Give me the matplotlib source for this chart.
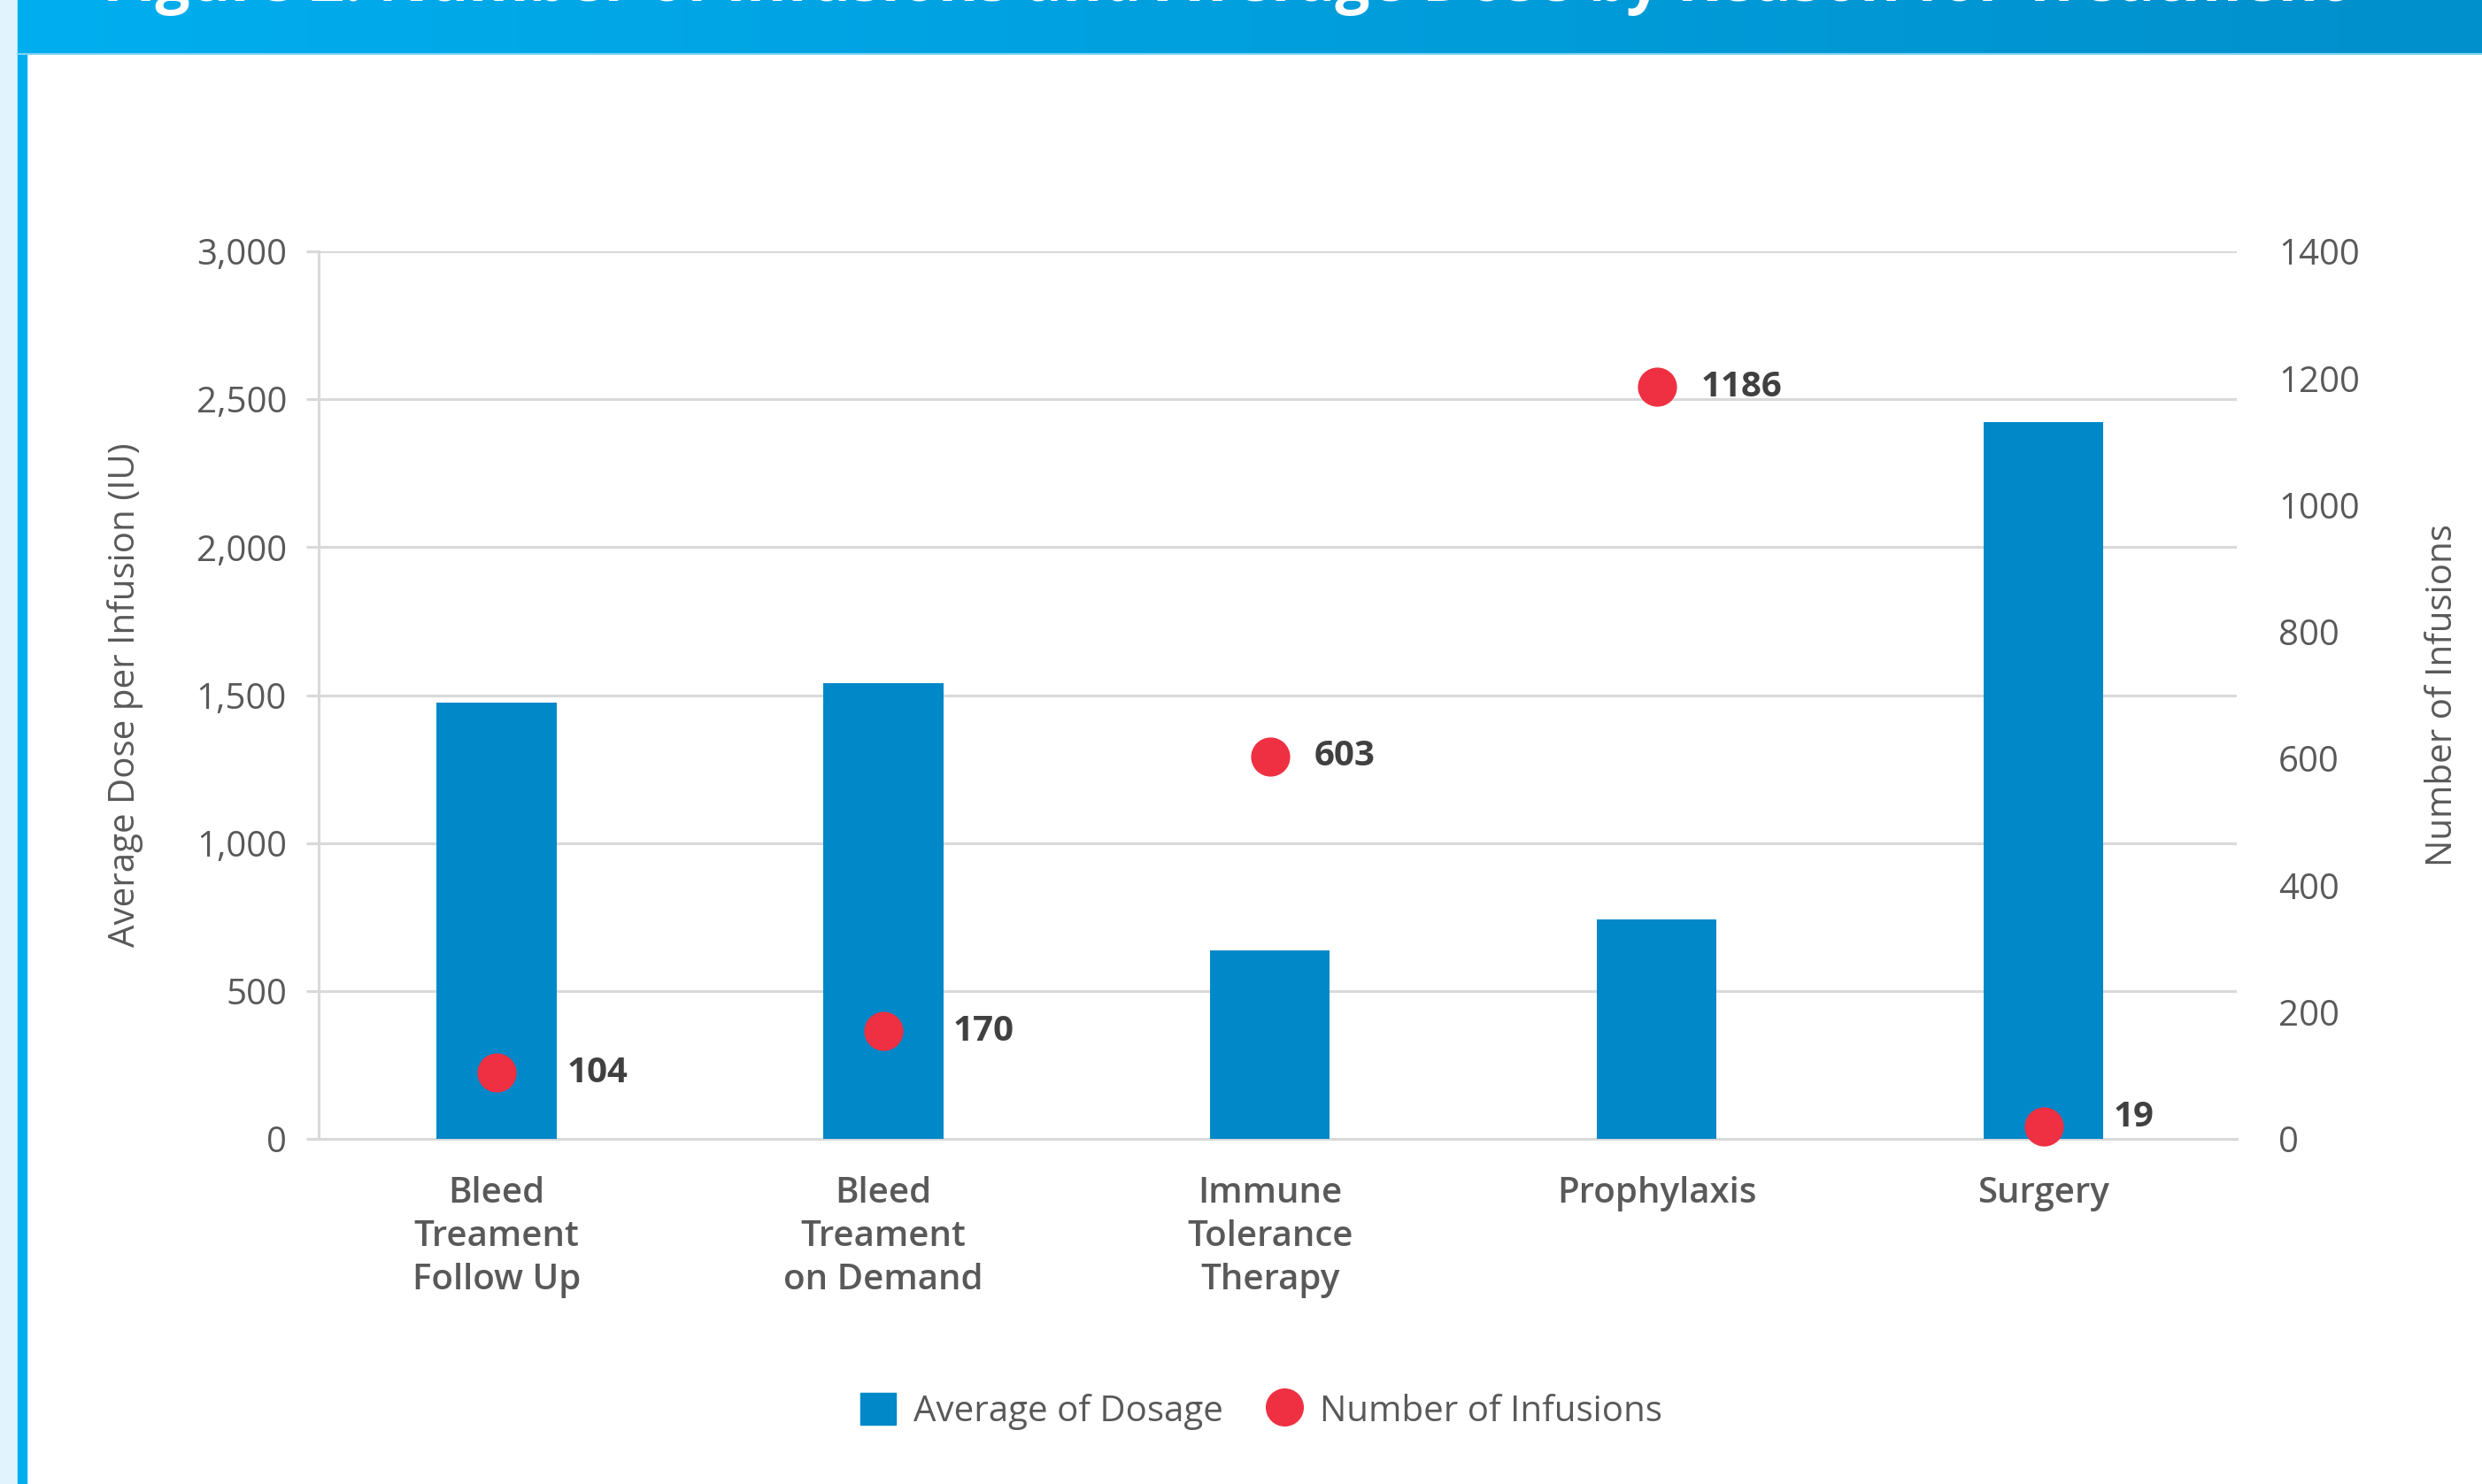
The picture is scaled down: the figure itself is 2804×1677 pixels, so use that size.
import numpy as np
import matplotlib
matplotlib.use('Agg')
import matplotlib.pyplot as plt
from matplotlib.patches import Rectangle
from matplotlib.lines import Line2D
from matplotlib.colors import LinearSegmentedColormap

categories = ['Bleed\nTreament\nFollow Up', 'Bleed\nTreament\non Demand', 'Immune\nTolerance\nTherapy',
              'Prophylaxis', 'Surgery']
avg_dosage = [1475, 1540, 636, 743, 2422]
num_infusions = [104, 170, 603, 1186, 19]
left_ticks = [0, 500, 1000, 1500, 2000, 2500, 3000]
right_ticks = [0, 200, 400, 600, 800, 1000, 1200, 1400]

title = 'Figure 2: Number of Infusions and Average Dose by Reason for Treatment'

bar_color = '#0088C9'
dot_color = '#EE3042'
text_color = '#595959'
grid_color = '#D9D9D9'

plt.rcParams['font.family'] = ['Open Sans', 'DejaVu Sans']

fig = plt.figure(figsize=(28.04, 16.77), dpi=100)
W, H = 2804, 1677

# page decoration: light strip, blue left border, gradient banner
fig.patches.append(Rectangle((0, 0), 20 / W, 1, transform=fig.transFigure, color='#E1F3FC', zorder=0))
fig.patches.append(Rectangle((20 / W, 0), 10 / W, 1, transform=fig.transFigure, color='#00AEEF', zorder=0))
ban = fig.add_axes([20 / W, 1 - 60 / H, 1 - 20 / W, 60 / H])
grad = np.linspace(0, 1, 256).reshape(1, -1)
cmap = LinearSegmentedColormap.from_list('ban', ['#00AEEF', '#0090CC'])
ban.imshow(grad, aspect='auto', cmap=cmap, extent=[0, 1, 0, 1])
ban.axis('off')
fig.add_artist(Line2D([20 / W, 1], [1 - 61 / H, 1 - 61 / H], transform=fig.transFigure,
                      color='#7FD3F5', lw=1.5))
# banner title, mostly above the visible crop as in the source
fig.text(116 / W, 1 - 1 / H, title, color='white', fontsize=50, fontweight='bold',
         va='baseline', ha='left')

ax = fig.add_axes([360 / W, 1 - 1287 / H, (2527 - 360) / W, (1287 - 284) / H])
x = np.arange(len(categories))
ax.bar(x, avg_dosage, width=0.31, color=bar_color, zorder=3)
ax.set_xlim(-0.46, 4.5)
ax.set_ylim(0, 3000)
ax.set_yticks(left_ticks)
ax.set_yticklabels(['{:,}'.format(v) for v in left_ticks])
ax.yaxis.grid(True, color=grid_color, lw=2.2, zorder=0)
ax.set_axisbelow(True)
ax.set_xticks(x)
ax.set_xticklabels(categories, fontsize=29, color=text_color, fontweight='semibold', linespacing=1.3)
ax.tick_params(axis='x', length=0, pad=30)
ax.tick_params(axis='y', length=10, width=2.2, color=grid_color, labelsize=29, labelcolor=text_color, pad=16)
for s in ['top', 'right']:
    ax.spines[s].set_visible(False)
ax.spines['left'].set_color(grid_color)
ax.spines['left'].set_linewidth(2.2)
ax.spines['bottom'].set_color(grid_color)
ax.spines['bottom'].set_linewidth(2.2)
ax.set_ylabel('Average Dose per Infusion (IU)', fontsize=29, color=text_color, labelpad=43)

ax2 = ax.twinx()
ax2.set_ylim(0, 1400)
ax2.set_yticks(right_ticks)
ax2.scatter(x, num_infusions, s=950, color=dot_color, zorder=5, clip_on=False)
for xi, v, b in zip(x, num_infusions, avg_dosage):
    # labels of dots sitting on a bar go past the bar's edge
    inside = v / 1400 * 3000 < b
    dx = 57 if inside else 36
    dy = 8 if v < 50 else 0
    ax2.annotate(str(v), (xi, v), xytext=(dx, dy), textcoords='offset points', fontsize=29,
                 fontweight='bold', color='#404040', va='center', ha='left')
ax2.tick_params(axis='y', length=0, labelsize=29, labelcolor=text_color, pad=34)
for s in ['top', 'right', 'left', 'bottom']:
    ax2.spines[s].set_visible(False)
ax2.set_ylabel('Number of Infusions', fontsize=29, color=text_color, labelpad=53)

handles = [Rectangle((0, 0), 1, 1, color=bar_color),
           Line2D([], [], marker='o', ls='', color=dot_color, markersize=30)]
fig.legend(handles, ['Average of Dosage', 'Number of Infusions'], loc='center',
           bbox_to_anchor=(1425 / W, 1 - 1595 / H), ncol=2, frameon=False, fontsize=29,
           labelcolor=text_color, handlelength=1.0, handleheight=1.0, handletextpad=0.5,
           columnspacing=1.2)

fig.savefig('out.png', dpi=100)
